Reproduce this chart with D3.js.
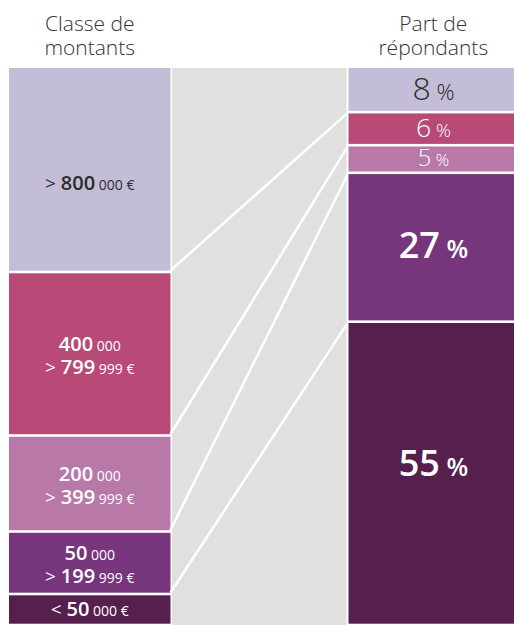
<!DOCTYPE html>
<html>
<head>
<meta charset="utf-8">
<script src="https://cdn.jsdelivr.net/npm/d3@7"></script>
<style>
  body { margin: 0; background: #fff; }
  text { font-family: "Open Sans", sans-serif; }
</style>
</head>
<body>
<div id="chart"></div>
<script>
// amount classes, top to bottom (band sizes)
var classBand = [204, 163.5, 96, 62.5, 31];
var classLabels = [
	[["> ", "800", " 000 €"]],
	[["", "400", " 000"], ["> ", "799", " 999 €"]],
	[["", "200", " 000"], ["> ", "399", " 999 €"]],
	[["", "50", " 000"], ["> ", "199", " 999 €"]],
	[["< ", "50", " 000 €"]]
];
// share of respondents (%), same order
var shares = [8, 6, 5, 27, 55];
var colors = ["#c4bdd7", "#b94a77", "#b879a9", "#77357b", "#55204d"];
var titleLeft = ["Classe de", "montants"];
var titleRight = ["Part de", "répondants"];

draw();

function draw() {
	var width = 514, height = 625;
	var top = 68, bottom = 625, gap = 2.6;
	var leftX = 9, leftW = 161.5;
	var grayX = 172, grayW = 174.5;
	var rightX = 348.5, rightW = 171;

	var svg = d3.select("#chart")
		.append("svg")
		.attr("width", width)
		.attr("height", height);

	var yL = d3.scaleLinear().domain([0, d3.sum(classBand)]).range([top, bottom]);
	var yR = d3.scaleLinear().domain([0, d3.sum(shares)]).range([top, bottom]);

	var cumL = [0].concat(Array.from(d3.cumsum(classBand)));
	var cumR = [0].concat(Array.from(d3.cumsum(shares)));

	//titles
	function title(lines, cx) {
		svg.selectAll(null)
			.data(lines)
			.enter().append("text")
			.attr("x", cx)
			.attr("y", function (d, i) { return 31 + i * 24; })
			.attr("text-anchor", "middle")
			.attr("font-size", "21px")
			.attr("font-weight", 300)
			.attr("fill", "#333")
			.text(function (d) { return d; });
	}
	title(titleLeft, leftX + leftW / 2);
	title(titleRight, 433.3);

	//gray middle band
	svg.append("rect")
		.attr("x", grayX)
		.attr("y", top)
		.attr("width", grayW)
		.attr("height", bottom - top)
		.style("fill", "#e0e0df");

	//left column
	var left = svg.selectAll("g.cls")
		.data(classBand)
		.enter().append("g")
		.attr("class", "cls");

	left.append("rect")
		.attr("x", leftX)
		.attr("y", function (d, i) { return yL(cumL[i]) + (i ? gap / 2 : 0); })
		.attr("height", function (d, i) { return yL(cumL[i + 1]) - yL(cumL[i]) - (i ? gap : gap / 2); })
		.attr("width", leftW)
		.style("fill", function (d, i) { return colors[i]; });

	left.each(function (d, i) {
		var g = d3.select(this);
		var mid = (yL(cumL[i]) + yL(cumL[i + 1])) / 2;
		var lines = classLabels[i];
		var base = lines.length === 1 ? mid + (i === 0 ? 20 : 6) : mid - 3;
		lines.forEach(function (parts, j) {
			var txt = g.append("text")
				.attr("x", leftX + leftW / 2)
				.attr("y", base + j * 23.5)
				.attr("text-anchor", "middle")
				.attr("fill", i === 0 ? "#2b2b2b" : "#fff");
			if (parts[0]) txt.append("tspan").text(parts[0]).attr("font-size", "19px").attr("font-weight", 400);
			txt.append("tspan").text(parts[1]).attr("font-size", "20px").attr("font-weight", 600);
			txt.append("tspan").text(parts[2]).attr("font-size", "14px").attr("font-weight", 400);
		});
	});

	//connector lines
	svg.selectAll("line.link")
		.data(d3.range(1, shares.length))
		.enter().append("line")
		.attr("class", "link")
		.attr("x1", leftX + leftW)
		.attr("y1", function (i) { return yL(cumL[i]) - 1.5; })
		.attr("x2", rightX)
		.attr("y2", function (i) { return yR(cumR[i]); })
		.style("stroke", "#fff")
		.style("stroke-width", 2.5);

	//right column
	var right = svg.selectAll("g.share")
		.data(shares)
		.enter().append("g")
		.attr("class", "share");

	right.append("rect")
		.attr("x", rightX)
		.attr("y", function (d, i) { return yR(cumR[i]) + (i ? gap / 2 : 0); })
		.attr("height", function (d, i) { return yR(cumR[i + 1]) - yR(cumR[i]) - (i ? gap : gap / 2); })
		.attr("width", rightW)
		.style("fill", function (d, i) { return colors[i]; });

	right.each(function (d, i) {
		var y0 = yR(cumR[i]), y1 = yR(cumR[i + 1]);
		var h = y1 - y0, mid = (y0 + y1) / 2;
		var big = d >= 20;
		var size = big ? 36 : Math.min(33, 10 + h / 2);
		var txt = d3.select(this).append("text")
			.attr("x", 433.5)
			.attr("y", i === shares.length - 1 ? mid + 3 : mid + size * 0.31)
			.attr("text-anchor", "middle")
			.attr("font-weight", big ? 600 : 300)
			.attr("fill", i === 0 ? "#2b2b2b" : "#fff");
		txt.append("tspan").text(d).attr("font-size", size + "px");
		txt.append("tspan").text(" %").attr("font-size", (size * 0.7) + "px");
	});
}
</script>
</body>
</html>
